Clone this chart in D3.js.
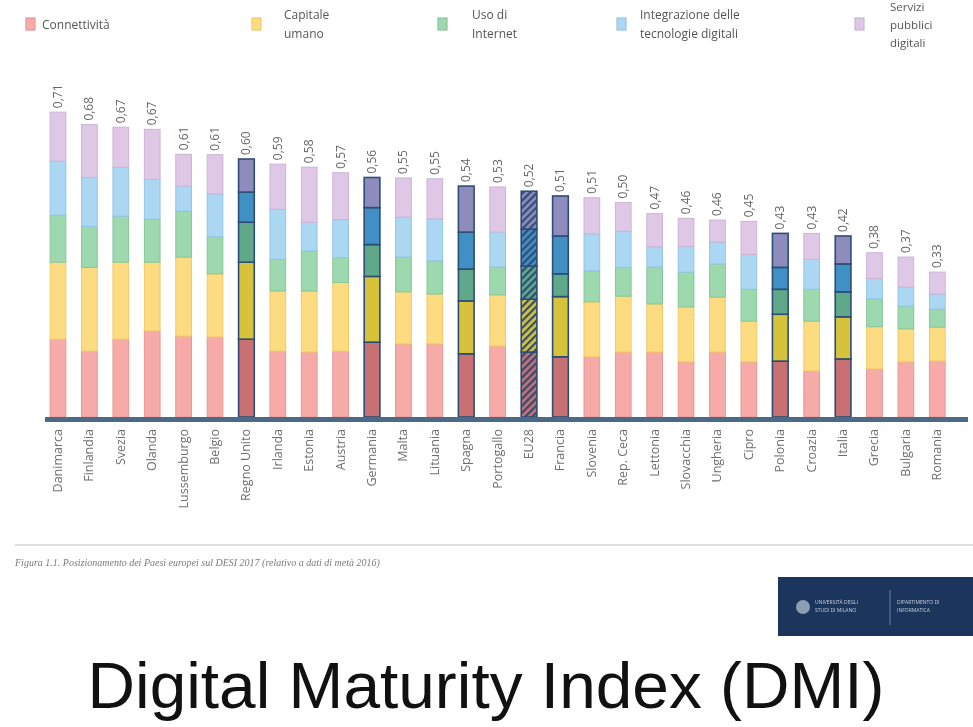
<!DOCTYPE html>
<html>
<head>
<meta charset="utf-8">
<script src="https://cdn.jsdelivr.net/npm/d3@7"></script>
<style>
  body { margin: 0; background: #fff; }
  svg { display: block; }
</style>
</head>
<body>
<div id="chart"></div>
<script>
var svgWidth = 973;
var svgHeight = 727;

// DESI 2017 - one entry per country (EU28 is the average)
var countries = ["Danimarca", "Finlandia", "Svezia", "Olanda", "Lussemburgo", "Belgio",
  "Regno Unito", "Irlanda", "Estonia", "Austria", "Germania", "Malta", "Lituania", "Spagna",
  "Portogallo", "EU28", "Francia", "Slovenia", "Rep. Ceca", "Lettonia", "Slovacchia",
  "Ungheria", "Cipro", "Polonia", "Croazia", "Italia", "Grecia", "Bulgaria", "Romania"];

var totals = [0.71, 0.68, 0.67, 0.67, 0.61, 0.61, 0.60, 0.59, 0.58, 0.57, 0.56, 0.55, 0.55, 0.54,
  0.53, 0.52, 0.51, 0.51, 0.50, 0.47, 0.46, 0.46, 0.45, 0.43, 0.43, 0.42, 0.38, 0.37, 0.33];

// the five dimensions
var connettivita = [0.181, 0.153, 0.181, 0.200, 0.188, 0.186, 0.181, 0.153, 0.151, 0.153, 0.174,
  0.170, 0.170, 0.147, 0.165, 0.151, 0.140, 0.140, 0.151, 0.151, 0.128, 0.151, 0.128, 0.130,
  0.107, 0.135, 0.112, 0.128, 0.130];
var capitaleUmano = [0.179, 0.195, 0.179, 0.160, 0.184, 0.147, 0.179, 0.140, 0.142, 0.160, 0.153,
  0.121, 0.116, 0.123, 0.119, 0.123, 0.140, 0.128, 0.130, 0.112, 0.128, 0.128, 0.095, 0.109,
  0.116, 0.098, 0.098, 0.077, 0.079];
var usoInternet = [0.109, 0.095, 0.107, 0.100, 0.107, 0.086, 0.093, 0.074, 0.093, 0.058, 0.074,
  0.081, 0.077, 0.074, 0.065, 0.077, 0.053, 0.072, 0.067, 0.086, 0.081, 0.077, 0.074, 0.058,
  0.074, 0.058, 0.065, 0.053, 0.042];
var integrazione = [0.126, 0.114, 0.114, 0.093, 0.058, 0.100, 0.070, 0.116, 0.067, 0.088, 0.086,
  0.093, 0.098, 0.086, 0.081, 0.086, 0.088, 0.086, 0.084, 0.047, 0.060, 0.051, 0.081, 0.051,
  0.070, 0.065, 0.047, 0.044, 0.035];
var serviziPubblici = [0.114, 0.123, 0.093, 0.116, 0.074, 0.091, 0.077, 0.105, 0.128, 0.109, 0.070,
  0.091, 0.093, 0.107, 0.105, 0.088, 0.093, 0.084, 0.067, 0.077, 0.065, 0.051, 0.077, 0.079,
  0.060, 0.065, 0.060, 0.070, 0.051];

var legendLabels = [["Connettività"], ["Capitale", "umano"], ["Uso di", "Internet"],
  ["Integrazione delle", "tecnologie digitali"], ["Servizi", "pubblici", "digitali"]];

var highlighted = ["Regno Unito", "Germania", "Spagna", "Francia", "Polonia", "Italia"];

var keys = ["connettivita", "capitale", "internet", "integrazione", "servizi"];
var lightColors = ["#f7aba8", "#fddb80", "#9ed8ae", "#abd7f3", "#dfc8e5"];
var edgeColors = ["#e69797", "#f2c96a", "#86c79a", "#94c5e6", "#cdb4d6"];
var darkColors = ["#c96f73", "#d6c23a", "#5ea98a", "#3f8fc5", "#8d8cbc"];
var navy = "#2f4d74";

var table = countries.map(function(c, i) {
  return {
    country: c,
    connettivita: connettivita[i],
    capitale: capitaleUmano[i],
    internet: usoInternet[i],
    integrazione: integrazione[i],
    servizi: serviziPubblici[i]
  };
});

var svg = d3.select("#chart")
  .append("svg")
  .attr("width", svgWidth)
  .attr("height", svgHeight);

var defs = svg.append("defs");
defs.append("filter").attr("id", "soft")
  .append("feGaussianBlur").attr("stdDeviation", 0.55);

// hatch patterns for the EU28 bar
darkColors.forEach(function(col, i) {
  var p = defs.append("pattern")
    .attr("id", "hatch" + i)
    .attr("patternUnits", "userSpaceOnUse")
    .attr("width", 5).attr("height", 5)
    .attr("patternTransform", "rotate(45)");
  p.append("rect").attr("width", 5).attr("height", 5).attr("fill", col);
  p.append("rect").attr("width", 2.2).attr("height", 5).attr("fill", navy);
});

var chartGroup = svg.append("g").attr("filter", "url(#soft)");

var xScale = d3.scaleBand()
  .domain(countries)
  .range([42.3, 953])
  .paddingInner(0.5)
  .paddingOuter(0.25);

var yScale = d3.scaleLinear()
  .domain([0, 1])
  .range([417, 417 - 430]);

var series = d3.stack().keys(keys)(table);

// bars
var layers = chartGroup.selectAll("g.layer")
  .data(series)
  .enter()
  .append("g")
  .attr("class", "layer");

layers.selectAll("rect")
  .data(function(d, i) { return d.map(function(p) { p.k = i; return p; }); })
  .enter()
  .append("rect")
  .attr("x", function(d) { return xScale(d.data.country); })
  .attr("y", function(d) { return yScale(d[1]); })
  .attr("width", xScale.bandwidth())
  .attr("height", function(d) { return yScale(d[0]) - yScale(d[1]); })
  .attr("fill", function(d) {
    if (d.data.country === "EU28") return "url(#hatch" + d.k + ")";
    if (highlighted.indexOf(d.data.country) >= 0) return darkColors[d.k];
    return lightColors[d.k];
  })
  .attr("stroke", function(d) {
    if (d.data.country === "EU28" || highlighted.indexOf(d.data.country) >= 0) return navy;
    return edgeColors[d.k];
  })
  .attr("stroke-width", function(d) {
    return (d.data.country === "EU28" || highlighted.indexOf(d.data.country) >= 0) ? 1.6 : 1;
  });

// value labels
chartGroup.append("g")
  .selectAll("text")
  .data(totals)
  .enter()
  .append("text")
  .attr("transform", function(d, i) {
    var top = yScale(d3.sum(keys, function(k) { return table[i][k]; }));
    return "translate(" + (xScale(countries[i]) + xScale.bandwidth() / 2 + 4) + "," + (top - 4) + ") rotate(-90)";
  })
  .style("font-family", "'Open Sans', sans-serif")
  .style("font-size", "12px")
  .attr("fill", "#666")
  .text(function(d) { return d.toFixed(2).replace(".", ","); });

// baseline
chartGroup.append("rect")
  .attr("x", 45).attr("y", 417)
  .attr("width", 923).attr("height", 5)
  .attr("fill", "#4c6b86");

// country labels
chartGroup.append("g")
  .selectAll("text")
  .data(countries)
  .enter()
  .append("text")
  .attr("transform", function(d) {
    return "translate(" + (xScale(d) + xScale.bandwidth() / 2 + 4) + ",429) rotate(-90)";
  })
  .attr("text-anchor", "end")
  .style("font-family", "'Open Sans', sans-serif")
  .style("font-size", "12.5px")
  .attr("fill", "#707070")
  .text(function(d) { return d; });

// legend
var legendX = [26, 252, 438, 617, 855];
var legendTextX = [42, 284, 472, 640, 890];
var legend = chartGroup.append("g");
legendLabels.forEach(function(lines, i) {
  legend.append("rect")
    .attr("x", legendX[i]).attr("y", 18)
    .attr("width", 9).attr("height", 12)
    .attr("fill", lightColors[i])
    .attr("stroke", edgeColors[i]).attr("stroke-width", 1.2);
  var y0 = lines.length === 1 ? 29 : (lines.length === 2 ? 19 : 11);
  var gap = lines.length === 3 ? 18 : 19;
  var t = legend.append("text")
    .attr("x", legendTextX[i]).attr("y", y0)
    .style("font-family", "'Open Sans', sans-serif")
    .style("font-size", lines.length === 3 ? "11.5px" : "12px")
    .attr("fill", "#555");
  lines.forEach(function(l, j) {
    t.append("tspan").attr("x", legendTextX[i]).attr("dy", j === 0 ? 0 : gap).text(l);
  });
});

// caption
chartGroup.append("line")
  .attr("x1", 15).attr("x2", 973)
  .attr("y1", 545).attr("y2", 545)
  .attr("stroke", "#d3d3d3").attr("stroke-width", 1.5);

chartGroup.append("text")
  .attr("x", 15).attr("y", 566)
  .style("font-family", "'Liberation Serif', serif")
  .style("font-style", "italic")
  .style("font-size", "10px")
  .attr("fill", "#7a7a7a")
  .text("Figura 1.1. Posizionamento dei Paesi europei sul DESI 2017 (relativo a dati di metà 2016)");

// logo block
var logo = chartGroup.append("g");
logo.append("rect")
  .attr("x", 778).attr("y", 577)
  .attr("width", 195).attr("height", 59)
  .attr("fill", "#1b365c");
logo.append("circle").attr("cx", 803).attr("cy", 607).attr("r", 7).attr("fill", "#8c9cb4");
logo.append("line").attr("x1", 890).attr("x2", 890).attr("y1", 590).attr("y2", 625)
  .attr("stroke", "#6f83a1").attr("stroke-width", 1);
logo.append("text").attr("x", 815).attr("y", 604)
  .style("font-family", "'Open Sans', sans-serif").style("font-size", "5px")
  .attr("fill", "#c5cedb").text("UNIVERSITÀ DEGLI");
logo.append("text").attr("x", 815).attr("y", 612)
  .style("font-family", "'Open Sans', sans-serif").style("font-size", "5px")
  .attr("fill", "#c5cedb").text("STUDI DI MILANO");
logo.append("text").attr("x", 897).attr("y", 604)
  .style("font-family", "'Open Sans', sans-serif").style("font-size", "5px")
  .attr("fill", "#c5cedb").text("DIPARTIMENTO DI");
logo.append("text").attr("x", 897).attr("y", 612)
  .style("font-family", "'Open Sans', sans-serif").style("font-size", "5px")
  .attr("fill", "#c5cedb").text("INFORMATICA");

// big title
svg.append("text")
  .attr("x", 486).attr("y", 708)
  .attr("text-anchor", "middle")
  .style("font-family", "'Liberation Sans', Arial, sans-serif")
  .style("font-size", "65px")
  .attr("textLength", 797)
  .attr("lengthAdjust", "spacingAndGlyphs")
  .attr("fill", "#111")
  .text("Digital Maturity Index (DMI)");
</script>
</body>
</html>
